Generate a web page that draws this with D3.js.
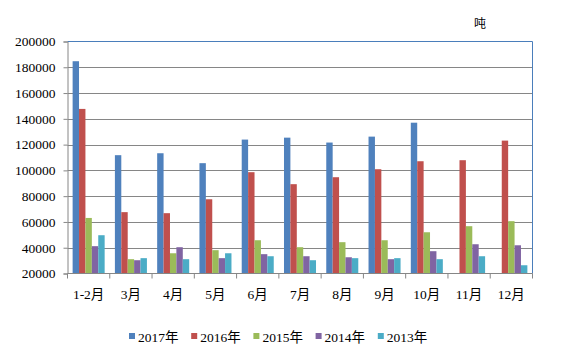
<!DOCTYPE html>
<html>
<head>
<meta charset="utf-8">
<script src="https://cdn.jsdelivr.net/npm/d3@7"></script>
<style>
  html, body { margin: 0; padding: 0; background: #fff; }
  svg { display: block; }
</style>
</head>
<body>
<svg id="chart" width="562" height="364"></svg>
<script>
const categories = ["1-2月", "3月", "4月", "5月", "6月", "7月", "8月", "9月", "10月", "11月", "12月"];
const seriesNames = ["2017年", "2016年", "2015年", "2014年", "2013年"];
const colors = ["#4F81BD", "#C0504D", "#9BBB59", "#8064A2", "#4BACC6"];
const v2017 = [184700, 111800, 113300, 105600, 123900, 125400, 121600, 126200, 137000, null, null];
const v2016 = [147700, 67600, 66800, 77600, 98600, 89300, 94700, 100900, 107100, 107900, 123100];
const v2015 = [63100, 31100, 35700, 38100, 45800, 40400, 44300, 45800, 52000, 56700, 60600];
const v2014 = [41200, 30300, 40400, 31900, 35000, 33400, 32600, 31100, 37300, 42700, 41900];
const v2013 = [49700, 31900, 31100, 35700, 33400, 30300, 31900, 31900, 31100, 33400, 26400];
const yTicks = [20000, 40000, 60000, 80000, 100000, 120000, 140000, 160000, 180000, 200000];
const unitLabel = "吨";

const seriesValues = [v2017, v2016, v2015, v2014, v2013];

(function () {
const svg = d3.select("#chart");
const pl = 67.5, pr = 532.5, pt = 41.5, pb = 273.5;
const serif = "'Liberation Serif', 'Times New Roman', 'Noto Sans CJK SC', serif";

const x0 = d3.scaleBand().domain(categories).range([pl, pr]).padding(0);
const x1 = d3.scaleBand().domain(seriesNames).range([0, x0.bandwidth()]).paddingInner(0).paddingOuter(0.8);
const y = d3.scaleLinear().domain([20000, 200000]).range([pb, pt]);

// gridlines
svg.append("g").selectAll("line").data(yTicks.filter(t => t > 20000 && t < 200000)).join("line")
  .attr("x1", pl).attr("x2", pr)
  .attr("y1", d => Math.round(y(d)) + 0.5).attr("y2", d => Math.round(y(d)) + 0.5)
  .attr("stroke", "#868686").attr("stroke-width", 1);

// plot border (top & right blue)
svg.append("line").attr("x1", pl).attr("x2", pr).attr("y1", pt).attr("y2", pt)
  .attr("stroke", "#4A7EBB").attr("stroke-width", 1);
svg.append("line").attr("x1", pr).attr("x2", pr).attr("y1", pt).attr("y2", pb)
  .attr("stroke", "#4A7EBB").attr("stroke-width", 1);

// bars
const groups = svg.append("g").selectAll("g").data(categories).join("g")
  .attr("transform", d => `translate(${x0(d)},0)`);
groups.selectAll("rect")
  .data((c, i) => seriesNames.map((s, j) => ({ s, j, v: seriesValues[j][i] })).filter(d => d.v != null))
  .join("rect")
  .attr("x", d => x1(d.s))
  .attr("width", x1.bandwidth())
  .attr("y", d => y(d.v))
  .attr("height", d => y(20000) - y(d.v))
  .attr("fill", d => colors[d.j]);

// y axis
const yAxis = d3.axisLeft(y).tickValues(yTicks).tickSize(4).tickPadding(8).tickFormat(d3.format("d"));
const gy = svg.append("g").attr("transform", `translate(${pl},0)`).call(yAxis);
gy.select(".domain").attr("stroke", "#868686");
gy.selectAll(".tick line").attr("stroke", "#868686");
gy.selectAll(".tick text").attr("font-family", serif).attr("font-size", "13.5px").attr("fill", "#000");

// x axis with ticks at category boundaries
svg.append("line").attr("x1", pl).attr("x2", pr).attr("y1", pb).attr("y2", pb)
  .attr("stroke", "#868686");
const bounds = categories.map(c => x0(c)).concat([pr]);
svg.append("g").selectAll("line").data(bounds).join("line")
  .attr("x1", d => d).attr("x2", d => d).attr("y1", pb).attr("y2", pb + 5)
  .attr("stroke", "#868686");
svg.append("g").selectAll("text").data(categories).join("text")
  .attr("x", d => x0(d) + x0.bandwidth() / 2)
  .attr("y", 299)
  .attr("text-anchor", "middle")
  .attr("font-family", serif).attr("font-size", "13.5px").attr("fill", "#000")
  .text(d => d);

// unit
svg.append("text").attr("x", 480).attr("y", 28).attr("text-anchor", "middle")
  .attr("font-family", "'Noto Sans CJK SC', sans-serif").attr("font-size", "12px").attr("fill", "#000")
  .text(unitLabel);

// legend
const legend = svg.append("g").selectAll("g").data(seriesNames).join("g")
  .attr("transform", (d, i) => `translate(${129 + i * 62.2},333)`);
legend.append("rect").attr("width", 6).attr("height", 6).attr("fill", (d, i) => colors[i]);
legend.append("text").attr("x", 9).attr("y", 8.5)
  .attr("font-family", serif).attr("font-size", "13.5px").attr("fill", "#000")
  .text(d => d);
})();
</script>
</body>
</html>
